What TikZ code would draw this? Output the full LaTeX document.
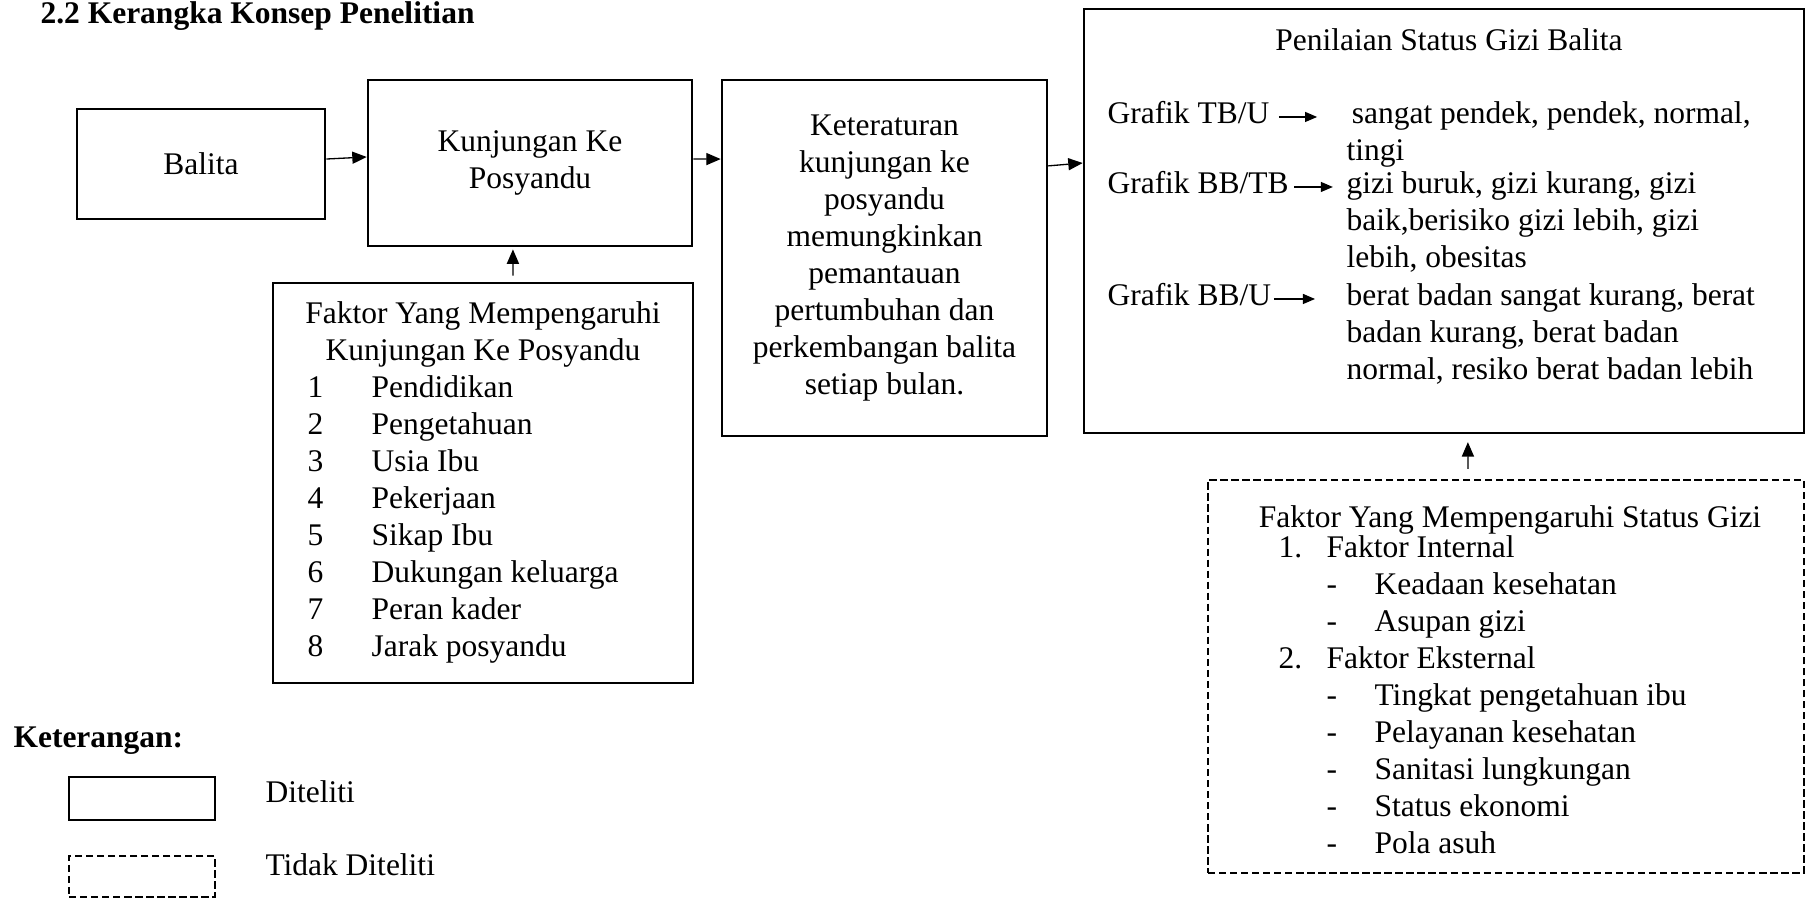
\documentclass[tikz,border=0pt]{standalone}
\usepackage{fontspec}
\setmainfont{Liberation Serif}
\usetikzlibrary{arrows.meta}

\begin{document}
\begin{tikzpicture}[x=0.381pt, y=-0.381pt,
		font=\fontsize{12}{14.1}\selectfont,
		kotak/.style={draw, line width=1pt, inner sep=0pt, align=center},
		kotakputus/.style={kotak, line width=0.9pt, dash pattern=on 2.8pt off 1.4pt},
		teks/.style={inner sep=0pt, anchor=base west},
		tebal/.style={teks, font=\fontsize{12}{14.1}\selectfont\bfseries},
		panah/.style={-{Triangle[length=5.5pt,width=4.6pt]}, line width=0.5pt},
		panahkecil/.style={-{Triangle[length=4.6pt,width=3.8pt]}, line width=0.5pt}]
				\useasboundingbox (0,0) rectangle (1806,898);
				\node[tebal] (judul) at (40,23) {2.2 Kerangka Konsep Penelitian};
				
				\node[kotak, minimum width=94.5pt, minimum height=41.9pt] (balita) at (201,164) {Balita};
				\node[kotak, minimum width=123.4pt, minimum height=63.2pt] (kunjungan) at (530,163) {Kunjungan Ke\\Posyandu};
				\node[kotak, minimum width=123.8pt, minimum height=135.6pt] (keteraturan) at (884.5,258) {Keteraturan\\kunjungan ke\\posyandu\\memungkinkan\\pemantauan\\pertumbuhan dan\\perkembangan balita\\setiap bulan.};
				
				\node[kotak, minimum width=160pt, minimum height=152.4pt] (faktor) at (483,483) {};
				\node[teks, anchor=base] (faktorjudul) at (483,323) {\begin{tabular}[t]{@{}c@{}}Faktor Yang Mempengaruhi\\Kunjungan Ke Posyandu\end{tabular}};
				\node[teks] (faktorisi) at (307,397) {\begin{tabular}[t]{@{}p{24.4pt}@{}l@{}}
					1 & Pendidikan\\ 2 & Pengetahuan\\ 3 & Usia Ibu\\ 4 & Pekerjaan\\
					5 & Sikap Ibu\\ 6 & Dukungan keluarga\\ 7 & Peran kader\\ 8 & Jarak posyandu
				\end{tabular}};
				
				\node[kotak, minimum width=274.3pt, minimum height=161.5pt] (penilaian) at (1444,221) {};
				\node[teks, anchor=base] (penilaianjudul) at (1449,50) {Penilaian Status Gizi Balita};
				\node[teks] (grafik1) at (1107,123) {Grafik TB/U};
				\node[teks] (nilai1) at (1346,123) {\begin{tabular}[t]{@{}l@{}}\hspace*{2pt}sangat pendek, pendek, normal,\\tingi\end{tabular}};
				\node[teks] (grafik2) at (1107,193) {Grafik BB/TB};
				\node[teks] (nilai2) at (1346,193) {\begin{tabular}[t]{@{}l@{}}gizi buruk, gizi kurang, gizi\\baik,berisiko gizi lebih, gizi\\lebih, obesitas\end{tabular}};
				\node[teks] (grafik3) at (1107,305) {Grafik BB/U};
				\node[teks] (nilai3) at (1346,305) {\begin{tabular}[t]{@{}l@{}}berat badan sangat kurang, berat\\badan kurang, berat badan\\normal, resiko berat badan lebih\end{tabular}};
				
				\node[kotakputus, minimum width=227.1pt, minimum height=149.7pt] (statusgizi) at (1506,676.5) {};
				\node[teks, anchor=base] (statusjudul) at (1510,527) {Faktor Yang Mempengaruhi Status Gizi};
				\node[teks] (statusisi) at (1278,557) {\begin{tabular}[t]{@{}p{18.3pt}@{}p{18.3pt}@{}l@{}}
					1. & \multicolumn{2}{@{}l@{}}{Faktor Internal}\\
					 & - & Keadaan kesehatan\\
					 & - & Asupan gizi\\
					2. & \multicolumn{2}{@{}l@{}}{Faktor Eksternal}\\
					 & - & Tingkat pengetahuan ibu\\
					 & - & Pelayanan kesehatan\\
					 & - & Sanitasi lungkungan\\
					 & - & Status ekonomi\\
					 & - & Pola asuh
				\end{tabular}};
				
				\draw[panah] ([yshift=1.9pt]balita.east) -- ([yshift=2.3pt]kunjungan.west);
				\draw[panah] ([yshift=1.5pt]kunjungan.east) -- ([yshift=37.7pt]keteraturan.west);
				\draw[panah] ([yshift=35.1pt]keteraturan.east) -- ([yshift=22.1pt]penilaian.west);
				\draw[panah] ([xshift=11.4pt,yshift=2.3pt]faktor.north) -- ([xshift=-6.5pt,yshift=-0.8pt]kunjungan.south);
				\draw[panah] ([xshift=-14.5pt,yshift=3.8pt]statusgizi.north) -- ([xshift=9.1pt,yshift=-3pt]penilaian.south);
				\draw[panahkecil, shorten <=3.4pt, shorten >=11pt] ([yshift=2.3pt]grafik1.base east) -- ([yshift=2.3pt]nilai1.base west);
				\draw[panahkecil, shorten <=1.9pt, shorten >=5pt] ([yshift=2.3pt]grafik2.base east) -- ([yshift=2.3pt]nilai2.base west);
				\draw[panahkecil, shorten <=0.8pt, shorten >=11.8pt] ([yshift=2.3pt]grafik3.base east) -- ([yshift=2.3pt]nilai3.base west);
				
				\node[tebal] (keterangan) at (13,747) {Keterangan:};
				\node[kotak, minimum width=55.6pt, minimum height=16.4pt] (legendaditeliti) at (142,798.5) {};
				\node[teks] (labelditeliti) at (265,802) {Diteliti};
				\node[kotakputus, minimum width=55.6pt, minimum height=15.6pt] (legendatidak) at (142,876.5) {};
				\node[teks] (labeltidak) at (265,875) {Tidak Diteliti};
\end{tikzpicture}
\end{document}
